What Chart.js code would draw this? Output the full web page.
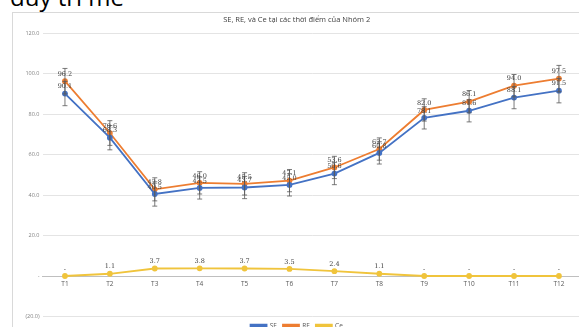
<!DOCTYPE html>
<html>
<head>
<meta charset="utf-8">
<script src="https://cdn.jsdelivr.net/npm/chart.js@4.4.1/dist/chart.umd.min.js"></script>
<style>
  html, body { margin:0; padding:0; width:579px; height:327px; overflow:hidden; background:#fff; }
  #head { position:absolute; left:10px; top:-17px; font-family:"Open Sans", "Noto Sans", sans-serif; font-size:24px; color:#000; white-space:nowrap; line-height:28px; }
  #box { position:absolute; left:12px; top:12px; width:590px; height:330px; border:1px solid #d9d9d9; box-sizing:border-box; }
  #wrap { position:absolute; left:12px; top:12px; width:580px; height:327px; }
</style>
</head>
<body>
<div id="head">duy trì mê</div>
<div id="box"></div>
<div id="wrap"><canvas id="c"></canvas></div>
<script>
const categories = ['T1','T2','T3','T4','T5','T6','T7','T8','T9','T10','T11','T12'];
const seValues = [90.1, 68.3, 40.5, 43.5, 43.7, 45.0, 50.6, 60.8, 78.1, 81.6, 88.1, 91.5];
const reValues = [96.2, 70.6, 42.8, 46.0, 45.5, 47.1, 53.6, 62.7, 82.0, 86.1, 94.0, 97.5];
const ceValues = [0, 1.1, 3.7, 3.8, 3.7, 3.5, 2.4, 1.1, 0, 0, 0, 0];
const seErrors = [6.0, 6.0, 6.0, 5.5, 5.5, 5.5, 5.5, 5.5, 5.5, 5.5, 5.5, 6.0];
const reErrors = [6.3, 6.1, 5.7, 5.5, 5.5, 5.5, 5.5, 5.5, 5.5, 5.5, 5.5, 6.5];
const yTicks = [-20, 0, 20, 40, 60, 80, 100, 120];
const titleText = 'SE, RE, và Ce tại các thời điểm của Nhóm 2';

const fmt = v => v === 0 ? '-' : (v < 0 ? '(' + Math.abs(v).toFixed(1) + ')' : v.toFixed(1));

const errorBars = {
  id: 'errorBars',
  afterDatasetsDraw(chart) {
    const ctx = chart.ctx, x = chart.scales.x, y = chart.scales.y;
    const sets = [[seValues, seErrors], [reValues, reErrors]];
    ctx.save();
    ctx.strokeStyle = '#595959';
    ctx.lineWidth = 0.8;
    sets.forEach(([vals, errs]) => {
      vals.forEach((v, i) => {
        const px = x.getPixelForValue(i);
        const top = y.getPixelForValue(v + errs[i]);
        const bot = y.getPixelForValue(v - errs[i]);
        ctx.beginPath();
        ctx.moveTo(px, top); ctx.lineTo(px, bot);
        ctx.moveTo(px - 2.5, top); ctx.lineTo(px + 2.5, top);
        ctx.moveTo(px - 2.5, bot); ctx.lineTo(px + 2.5, bot);
        ctx.stroke();
      });
    });
    ctx.restore();
  }
};

const dataLabels = {
  id: 'dataLabels',
  afterDraw(chart) {
    const ctx = chart.ctx, x = chart.scales.x, y = chart.scales.y;
    ctx.save();
    ctx.font = '6.5px "DejaVu Serif", serif';
    ctx.fillStyle = '#404040';
    ctx.textAlign = 'center';
    ctx.textBaseline = 'middle';
    [seValues, reValues, ceValues].forEach(vals => {
      vals.forEach((v, i) => {
        const px = x.getPixelForValue(i);
        const py = y.getPixelForValue(v) - 7;
        ctx.fillText(fmt(v), px, py);
      });
    });
    ctx.restore();
  }
};

new Chart(document.getElementById('c'), {
  type: 'line',
  data: {
    labels: categories,
    datasets: [
      { label: 'SE', data: seValues, borderColor: '#4472C4', backgroundColor: '#4472C4', borderWidth: 1.8, pointRadius: 2, pointBackgroundColor: '#4472C4', tension: 0 },
      { label: 'RE', data: reValues, borderColor: '#ED7D31', backgroundColor: '#ED7D31', borderWidth: 1.8, pointRadius: 2, pointBackgroundColor: '#ED7D31', tension: 0 },
      { label: 'Ce', data: ceValues, borderColor: '#F0C43C', backgroundColor: '#F0C43C', borderWidth: 1.8, pointRadius: 2, pointBackgroundColor: '#F0C43C', tension: 0 }
    ]
  },
  options: {
    responsive: true,
    maintainAspectRatio: false,
    animation: false,
    layout: { padding: { left: 0, right: 10.6, top: 0, bottom: 0 } },
    plugins: {
      title: { display: true, text: titleText, color: '#404040', font: { family: '"Open Sans", sans-serif', size: 7.5, weight: 'normal' }, padding: { top: 3, bottom: 9 } },
      legend: {
        position: 'bottom',
        labels: { color: '#595959', font: { family: '"Open Sans", sans-serif', size: 6.5 }, boxWidth: 16, boxHeight: 2, padding: 6 }
      },
      tooltip: { enabled: false }
    },
    scales: {
      x: {
        type: 'category',
        offset: true,
        position: { y: 0 },
        grid: { display: false, drawTicks: false, tickLength: 0 },
        border: { color: '#bfbfbf', width: 1 },
        ticks: { color: '#595959', font: { family: '"Open Sans", sans-serif', size: 6.5 }, padding: 4, maxRotation: 0 }
      },
      y: {
        min: -20, max: 120,
        afterBuildTicks(axis) { axis.ticks = yTicks.map(v => ({ value: v })); },
        afterFit(axis) { axis.width = 30.5; },
        grid: { color: '#e4e4e4', drawTicks: false },
        border: { display: false },
        ticks: { color: '#7f7f7f', font: { family: '"Open Sans", sans-serif', size: 5.5 }, padding: 3, callback: v => fmt(v) }
      }
    }
  },
  plugins: [errorBars, dataLabels]
});
</script>
</body>
</html>
